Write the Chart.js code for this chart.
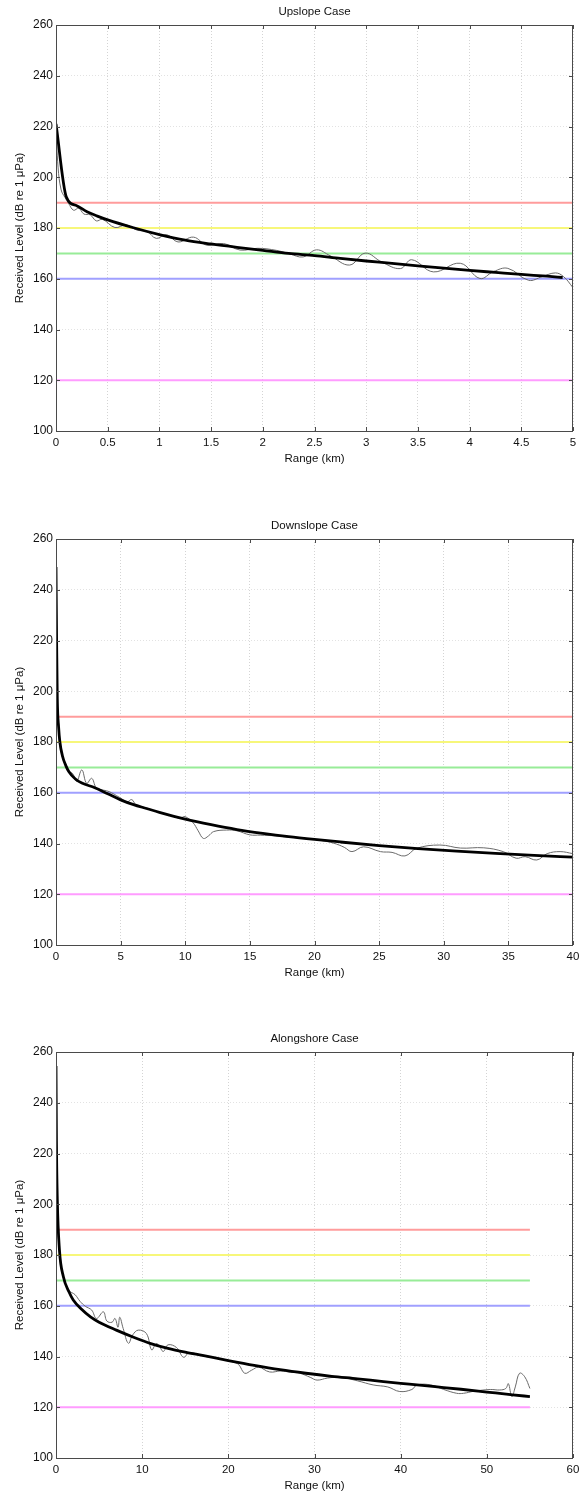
<!DOCTYPE html>
<html>
<head>
<meta charset="utf-8">
<script src="https://cdn.jsdelivr.net/npm/chart.js@4.4.0/dist/chart.umd.min.js"></script>
<style>
  html, body { margin: 0; padding: 0; background: #fff; overflow: hidden; }
  body { width: 581px; height: 1494px; position: relative; }
  canvas { position: absolute; left: 0; }
</style>
</head>
<body>
<canvas id="c1" width="581" height="467" style="top:0px"></canvas>
<canvas id="c2" width="581" height="467" style="top:514px"></canvas>
<canvas id="c3" width="581" height="467" style="top:1027px"></canvas>
<script>
// ---------- Data ----------
const titles = ["Upslope Case", "Downslope Case", "Alongshore Case"];
const xAxisTitle = "Range (km)";
const yAxisTitle = "Received Level (dB re 1 μPa)";
const yTicks = [100, 120, 140, 160, 180, 200, 220, 240, 260];

const xTicksUp = [0, 0.5, 1, 1.5, 2, 2.5, 3, 3.5, 4, 4.5, 5];
const xTickLabelsUp = ["0", "0.5", "1", "1.5", "2", "2.5", "3", "3.5", "4", "4.5", "5"];
const xTicksDown = [0, 5, 10, 15, 20, 25, 30, 35, 40];
const xTickLabelsDown = ["0", "5", "10", "15", "20", "25", "30", "35", "40"];
const xTicksAlong = [0, 10, 20, 30, 40, 50, 60];
const xTickLabelsAlong = ["0", "10", "20", "30", "40", "50", "60"];

const thresholdLevels = [190, 180, 170, 160, 120];
const thresholdColors = ["#ff9c9c", "#f7f77a", "#98ec98", "#a0a0ff", "#ff9cff"];
const thresholdEndUp = 5;
const thresholdEndDown = 40;
const thresholdEndAlong = 55;

// Upslope
const upFitX = [0, 0.1, 0.2, 0.3, 0.4, 0.5, 0.75, 1, 1.25, 1.5, 1.75, 2, 2.25, 2.5, 2.75, 3, 3.25, 3.5, 3.75, 4, 4.25, 4.5, 4.75, 4.9];
const upFitY = [221, 192.2, 188.8, 186.4, 184.7, 183.2, 180.1, 177.4, 175.2, 173.7, 172.4, 171.2, 170.0, 169.1, 168.0, 167.0, 166.1, 165.1, 164.2, 163.3, 162.5, 161.7, 161.0, 160.5];
const upModelX = [0, 0.02, 0.05, 0.087, 0.12, 0.17, 0.22, 0.27, 0.33, 0.39, 0.45, 0.57, 0.68, 0.78, 0.88, 0.97, 1.07, 1.18, 1.33, 1.46, 1.62, 1.78, 1.95, 2.13, 2.26, 2.39, 2.52, 2.65, 2.84, 2.99, 3.15, 3.33, 3.44, 3.65, 3.91, 4.10, 4.23, 4.37, 4.57, 4.70, 4.83, 4.91, 5.0];
const upModelY = [220.5, 204, 195, 192.0, 189.8, 187.0, 187.8, 185.5, 185.2, 182.8, 183.4, 180.2, 181.2, 179.2, 178.6, 175.9, 177.4, 174.5, 176.4, 173.2, 173.9, 171.3, 172.0, 171.2, 169.8, 168.6, 171.4, 169.1, 165.4, 170.1, 166.6, 164.0, 167.5, 162.7, 166.1, 160.1, 162.8, 164.1, 159.4, 160.8, 162.3, 160.8, 156.5];

// Downslope
const downFitX = [0, 0.05, 0.1, 0.2, 0.3, 0.5, 0.75, 1, 1.5, 2, 3, 4, 5, 6, 7, 8, 10, 12, 14, 16, 18, 20, 22, 25, 28, 31, 34, 37, 40];
const downFitY = [249, 218, 197, 186, 180, 174.5, 170.8, 168.3, 165.4, 163.8, 162.0, 159.6, 157.2, 155.3, 153.8, 152.3, 149.6, 147.4, 145.5, 144.0, 142.7, 141.6, 140.6, 139.2, 138.0, 137.0, 136.1, 135.3, 134.6];
const downModelX = [0, 0.05, 0.1, 0.2, 0.3, 0.5, 0.75, 1, 1.3, 1.6, 2.0, 2.37, 2.76, 3.1, 3.4, 3.9, 4.3, 4.7, 5.1, 5.47, 5.86, 6.2, 7, 8, 9, 9.6, 9.98, 10.6, 11.0, 11.4, 11.8, 12.2, 13.2, 14, 15, 15.8, 17, 18, 19.4, 20.5, 21.5, 22.3, 22.9, 23.8, 25.1, 26, 27.0, 27.9, 29.7, 31.3, 33.1, 34.6, 35.6, 36.3, 37.2, 38.0, 39.0, 40];
const downModelY = [248, 215, 196, 185, 179, 174, 171.5, 168.5, 167.5, 164.5, 169, 163.7, 165.7, 162.0, 161.3, 160.8, 160.0, 158.8, 157.6, 156.3, 157.3, 155.2, 154.0, 152.2, 150.8, 150.0, 150.6, 148.2, 145.0, 142.0, 143.0, 144.7, 145.3, 145.0, 143.4, 143.3, 143.0, 142.5, 142.0, 141.2, 140.1, 138.5, 136.8, 138.7, 136.8, 136.5, 135.1, 138.1, 139.4, 138.2, 138.3, 136.8, 134.2, 134.8, 133.5, 136.0, 136.8, 136.0];

// Alongshore
const alongFitX = [0, 0.05, 0.15, 0.4, 0.85, 1.5, 2, 3, 4, 5, 7, 9, 11, 13, 15, 17, 20, 23, 26, 29, 32, 35, 38, 41, 44, 47, 50, 53, 55];
const alongFitY = [254.5, 225, 202, 182, 171.5, 165.5, 162.3, 158.5, 155.6, 153.5, 150.4, 147.6, 145.1, 143.2, 141.7, 140.4, 138.4, 136.5, 134.8, 133.4, 132.2, 131.2, 130.1, 129.1, 128.1, 127.1, 126.0, 124.9, 124.2];
const alongModelX = [0, 0.05, 0.15, 0.4, 0.85, 1.5, 2.2, 2.8, 3.4, 4.14, 4.7, 5.5, 5.9, 6.5, 6.85, 7.2, 7.4, 7.8, 8.4, 8.9, 9.55, 10.5, 11.1, 11.6, 11.9, 12.45, 13, 14, 14.8, 15.5, 17, 19, 20.5, 21.2, 21.9, 22.7, 23.5, 24.8, 26.1, 27.2, 28.3, 29.5, 30.3, 31.5, 33, 35, 36.8, 38.5, 39.9, 41.3, 41.9, 43.5, 45, 46.5, 47.3, 48.5, 50.4, 51.5, 52.2, 52.5, 52.9, 53.3, 53.8, 54.4, 55.0];
const alongModelY = [254, 222, 200, 181, 171, 166, 164.4, 161.7, 159.8, 158.3, 155.0, 157.6, 154.0, 153.5, 155.0, 151.5, 155.5, 151.0, 145.2, 148.5, 150.4, 149.0, 142.6, 145.0, 144.6, 142.0, 144.6, 143.5, 139.7, 141.6, 140.2, 139.2, 137.9, 136.8, 133.4, 134.6, 135.8, 133.9, 134.3, 133.8, 133.4, 131.8, 130.7, 131.5, 131.8, 130.4, 128.8, 128.0, 126.2, 127.0, 128.8, 128.8, 127.0, 125.5, 125.5, 126.3, 127.0, 126.8, 127.4, 129.3, 124.2, 128.0, 133.4, 132.0, 127.4];

// ---------- Chart building ----------
const FONT = "'Liberation Sans', Arial, Helvetica, sans-serif";

const framePlugin = {
  id: 'frame',
  afterDatasetsDraw(chart) {
    const { ctx, chartArea: a, scales: { x, y } } = chart;
    ctx.save();
    ctx.strokeStyle = '#4a4a4a';
    ctx.lineWidth = 1;
    ctx.strokeRect(a.left + 0.5, a.top + 0.5, a.right - a.left - 1, a.bottom - a.top);
    ctx.beginPath();
    x.ticks.forEach(t => {
      const px = Math.round(x.getPixelForValue(t.value)) + 0.5;
      ctx.moveTo(px, a.bottom); ctx.lineTo(px, a.bottom - 4);
      ctx.moveTo(px, a.top); ctx.lineTo(px, a.top + 4);
    });
    y.ticks.forEach(t => {
      const py = Math.round(y.getPixelForValue(t.value)) + 0.5;
      ctx.moveTo(a.left, py); ctx.lineTo(a.left + 4, py);
      ctx.moveTo(a.right, py); ctx.lineTo(a.right - 4, py);
    });
    ctx.stroke();
    ctx.restore();
  }
};

function pts(xs, ys) { return xs.map((v, i) => ({ x: v, y: ys[i] })); }

function makeChart(id, title, fitX, fitY, modelX, modelY, xTicks, xLabels, xMax, thEnd) {
  const datasets = [
    { data: pts(fitX, fitY), borderColor: '#000', borderWidth: 2.8, pointRadius: 0, cubicInterpolationMode: 'monotone', fill: false },
    { data: pts(modelX, modelY), borderColor: '#6a6a6a', borderWidth: 1, pointRadius: 0, tension: 0.4, fill: false }
  ];
  thresholdLevels.forEach((lv, i) => {
    datasets.push({ data: [{ x: 0, y: lv }, { x: thEnd, y: lv }], borderColor: thresholdColors[i], borderWidth: 2, pointRadius: 0, fill: false });
  });
  return new Chart(document.getElementById(id), {
    type: 'line',
    data: { datasets },
    plugins: [framePlugin],
    options: {
      responsive: false,
      animation: false,
      events: [],
      layout: { padding: { left: 0, right: 8, top: 0, bottom: 0 } },
      plugins: {
        legend: { display: false },
        tooltip: { enabled: false },
        title: {
          display: true, text: title, fullSize: false, color: '#111',
          font: { family: FONT, size: 11.5, weight: 'normal' },
          padding: { top: 5, bottom: 6.2 }
        }
      },
      scales: {
        x: {
          type: 'linear', min: 0, max: xMax,
          afterBuildTicks: s => { s.ticks = xTicks.map(v => ({ value: v })); },
          afterFit: s => { s.height = 36; s.paddingLeft = 0; s.paddingRight = 0; },
          ticks: {
            color: '#111', font: { family: FONT, size: 11.5 }, padding: 5, maxRotation: 0, autoSkip: false,
            callback: (v, i) => xLabels[i]
          },
          grid: { color: '#d4d4d4', lineWidth: 1, drawTicks: false },
          border: { display: false, dash: [1, 2] },
          title: { display: true, text: xAxisTitle, color: '#111', font: { family: FONT, size: 11.5 }, padding: { top: 0, bottom: 1 } }
        },
        y: {
          type: 'linear', min: 100, max: 260,
          afterBuildTicks: s => { s.ticks = yTicks.map(v => ({ value: v })); },
          afterFit: s => { s.width = 56; },
          ticks: { color: '#111', font: { family: FONT, size: 12 }, padding: 3 },
          grid: { color: '#e2e2e2', lineWidth: 1, drawTicks: false },
          border: { display: false, dash: [1, 2] },
          title: { display: true, text: yAxisTitle, color: '#111', font: { family: FONT, size: 11.5 }, padding: { top: 13, bottom: 0 } }
        }
      }
    }
  });
}

makeChart('c1', titles[0], upFitX, upFitY, upModelX, upModelY, xTicksUp, xTickLabelsUp, 5, thresholdEndUp);
makeChart('c2', titles[1], downFitX, downFitY, downModelX, downModelY, xTicksDown, xTickLabelsDown, 40, thresholdEndDown);
makeChart('c3', titles[2], alongFitX, alongFitY, alongModelX, alongModelY, xTicksAlong, xTickLabelsAlong, 60, thresholdEndAlong);
</script>
</body>
</html>
